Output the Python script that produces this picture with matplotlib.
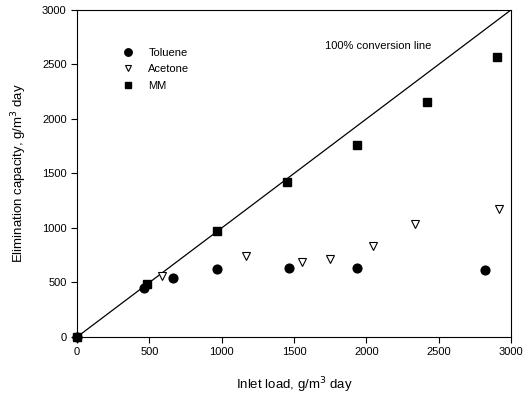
import numpy as np
import matplotlib.pyplot as plt

plt.rcParams['font.family'] = ['Liberation Sans', 'DejaVu Sans']

# DATA
toluene_x = [0, 463, 663, 968, 1465, 1935, 2820]
toluene_y = [0, 450, 540, 622, 635, 630, 612]
acetone_x = [587, 1168, 1557, 1750, 2043, 2336, 2917]
acetone_y = [560, 743, 688, 712, 835, 1040, 1170]
mm_x = [0, 484, 968, 1451, 1935, 2419, 2903]
mm_y = [0, 484, 972, 1422, 1761, 2156, 2569]
line_x = [0, 3000]
line_y = [0, 3000]

fig = plt.figure(figsize=(5.29, 3.96), dpi=100)
ax = fig.add_axes([0.1456, 0.149, 0.8204, 0.826])

ax.plot(line_x, line_y, color='black', linewidth=0.9)
ax.plot(toluene_x, toluene_y, 'o', color='black', markersize=6.3, clip_on=False, label='Toluene')
ax.plot(acetone_x, acetone_y, 'v', markerfacecolor='white', markeredgecolor='black',
        markeredgewidth=0.8, markersize=5.2, clip_on=False, label='Acetone')
ax.plot(mm_x, mm_y, 's', color='black', markersize=5.4, clip_on=False, label='MM')

ax.text(1714, 2670, '100% conversion line', fontsize=8, ha='left', va='center')

ax.set_xlim(0, 3000)
ax.set_ylim(0, 3000)
ax.set_xticks(np.arange(0, 3001, 500))
ax.set_yticks(np.arange(0, 3001, 500))
ax.tick_params(direction='out', length=4, labelsize=8, top=False, right=False)
ax.set_xlabel('Inlet load, g/m$^3$ day', fontsize=9.5, labelpad=13)
ax.set_ylabel('Elimination capacity, g/m$^3$ day', fontsize=9.5, labelpad=9)

ax.legend(loc='upper left', bbox_to_anchor=(0.08, 0.915), frameon=False, fontsize=8,
          handletextpad=1.2, labelspacing=0.6, handlelength=1.2, markerscale=0.85)

fig.savefig('out.png', dpi=100)
